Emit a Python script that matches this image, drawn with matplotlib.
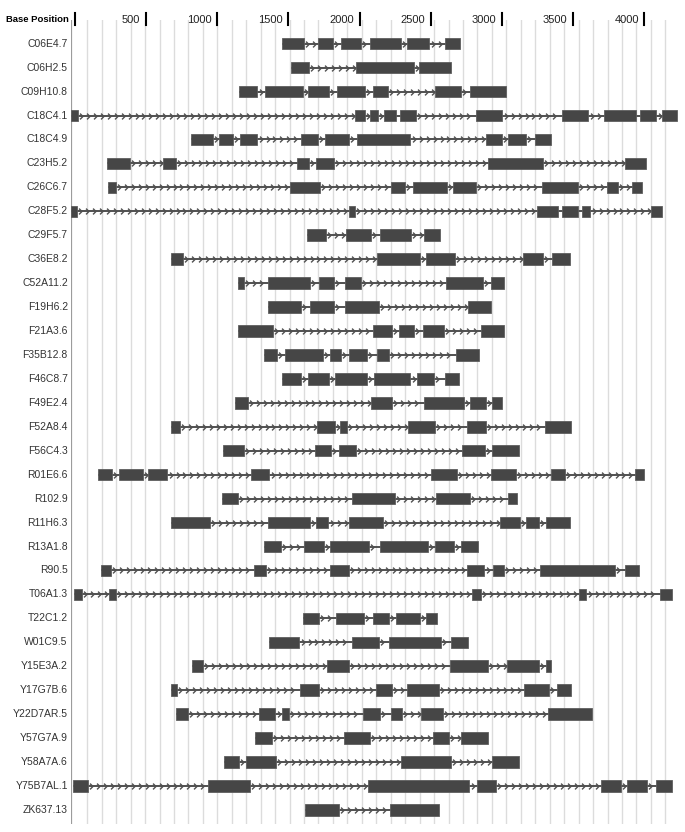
import numpy as np
import matplotlib
matplotlib.use("Agg")
import matplotlib.pyplot as plt
import matplotlib.transforms as mtransforms
from matplotlib.path import Path

# gene names, top to bottom
genes = ["C06E4.7", "C06H2.5", "C09H10.8", "C18C4.1", "C18C4.9", "C23H5.2",
         "C26C6.7", "C28F5.2", "C29F5.7", "C36E8.2", "C52A11.2", "F19H6.2",
         "F21A3.6", "F35B12.8", "F46C8.7", "F49E2.4", "F52A8.4", "F56C4.3",
         "R01E6.6", "R102.9", "R11H6.3", "R13A1.8", "R90.5", "T06A1.3",
         "T22C1.2", "W01C9.5", "Y15E3A.2", "Y17G7B.6", "Y22D7AR.5", "Y57G7A.9",
         "Y58A7A.6", "Y75B7AL.1", "ZK637.13"]

# exon start / end (base position) for each gene
exon_starts = [
    [1482, 1733, 1896, 2100, 2362, 2624],
    [1543, 2004, 2445],
    [1182, 1364, 1667, 1866, 2122, 2555, 2804],
    [0, 1996, 2103, 2197, 2310, 2842, 3449, 3744, 3998, 4152],
    [840, 1041, 1185, 1618, 1786, 2009, 2914, 3071, 3259],
    [250, 644, 1585, 1722, 2930, 3890],
    [258, 1540, 2246, 2404, 2680, 3306, 3763, 3940],
    [0, 1951, 3272, 3449, 3592, 4075],
    [1654, 1929, 2167, 2478],
    [699, 2147, 2492, 3176, 3380],
    [1171, 1383, 1742, 1924, 2633, 2947],
    [1386, 1676, 1924, 2787],
    [1171, 2122, 2302, 2473, 2878],
    [1356, 1502, 1816, 1949, 2147, 2702],
    [1483, 1667, 1855, 2125, 2431, 2624],
    [1154, 2106, 2478, 2804, 2955],
    [705, 1731, 1888, 2365, 2779, 3330],
    [1069, 1711, 1882, 2743, 2958],
    [192, 335, 542, 1265, 2531, 2950, 3369, 3959],
    [1063, 1973, 2566, 3071],
    [702, 1383, 1720, 1951, 3016, 3198, 3336],
    [1358, 1637, 1822, 2167, 2555, 2740],
    [211, 1284, 1819, 2779, 2961, 3297, 3893],
    [21, 266, 2815, 3570, 4138],
    [1631, 1858, 2120, 2285, 2492],
    [1391, 1976, 2230, 2666],
    [848, 1797, 2660, 3063, 3339],
    [705, 1609, 2142, 2362, 3179, 3416],
    [735, 1323, 1483, 2048, 2244, 2459, 3352],
    [1292, 1918, 2544, 2737],
    [1074, 1226, 2321, 2958],
    [12, 961, 2087, 2848, 3725, 3904, 4108],
    [1645, 2241],
]
exon_ends = [
    [1637, 1841, 2037, 2315, 2517, 2729],
    [1673, 2406, 2671],
    [1309, 1629, 1811, 2064, 2224, 2740, 3057],
    [46, 2067, 2153, 2280, 2420, 3030, 3634, 3970, 4111, 4257],
    [994, 1138, 1309, 1734, 1954, 2384, 3027, 3195, 3372],
    [415, 738, 1673, 1849, 3317, 4039],
    [313, 1750, 2343, 2638, 2842, 3562, 3843, 4009],
    [40, 1996, 3421, 3562, 3648, 4147],
    [1789, 2109, 2390, 2588],
    [785, 2448, 2699, 3317, 3501],
    [1215, 1678, 1849, 2034, 2892, 3044],
    [1612, 1844, 2164, 2950],
    [1419, 2255, 2409, 2619, 3041],
    [1449, 1767, 1896, 2078, 2233, 2867],
    [1612, 1813, 2078, 2384, 2550, 2726],
    [1240, 2255, 2757, 2914, 3027],
    [763, 1855, 1940, 2553, 2917, 3510],
    [1215, 1825, 2001, 2908, 3146],
    [288, 503, 677, 1394, 2710, 3124, 3466, 4025],
    [1171, 2274, 2804, 3135],
    [978, 1681, 1808, 2191, 3151, 3289, 3504],
    [1477, 1778, 2095, 2506, 2688, 2859],
    [280, 1369, 1949, 2903, 3038, 3819, 3992],
    [79, 313, 2881, 3620, 4224],
    [1739, 2059, 2233, 2448, 2572],
    [1604, 2164, 2600, 2790],
    [925, 1951, 2925, 3289, 3369],
    [746, 1739, 2255, 2586, 3358, 3510],
    [823, 1436, 1529, 2169, 2326, 2613, 3661],
    [1411, 2100, 2652, 2925],
    [1179, 1441, 2668, 3148],
    [117, 1259, 2798, 2983, 3865, 4045, 4221],
    [1882, 2586],
]

tick_values = [0, 500, 1000, 1500, 2000, 2500, 3000, 3500, 4000]
tick_labels = ["Base Position", "500", "1000", "1500", "2000", "2500",
               "3000", "3500", "4000"]

plt.rcParams["font.family"] = ["Liberation Sans", "DejaVu Sans"]

W, H = 685, 832
fig = plt.figure(figsize=(W / 100, H / 100), dpi=100)
ax = fig.add_axes([71 / W, 8 / H, 614 / W, 804 / H])
ax.set_xlim(0, 4312)
ax.set_ylim(32.59, -0.99)
ax.axis("off")

# background grid (drawn a little wider than 100 bp, as in the original)
grid_step = 101.5
for k in range(1, 42):
    ax.axvline(12.6 + grid_step * k, color="#dcdcdc", lw=1.0, zorder=0)
ax.axvline(0, color="#9c9c9c", lw=1.6, zorder=1)

chevron = Path([(-0.5, 1), (0.5, 0), (-0.5, -1)],
               [Path.MOVETO, Path.LINETO, Path.LINETO])

label_trans = mtransforms.offset_copy(ax.get_yaxis_transform(), fig=fig,
                                      x=-2.3, units="points")

for i, (starts, ends) in enumerate(zip(exon_starts, exon_ends)):
    # intron backbone
    ax.plot([starts[0], ends[-1]], [i, i], color="#505050", lw=1.4,
            solid_capstyle="butt", zorder=2)
    xs = []
    for e, s in zip(ends[:-1], starts[1:]):
        xs.extend(np.arange(e + 22, s - 10, 49))
    if xs:
        ax.plot(xs, [i] * len(xs), ls="none", marker=chevron, ms=4.2,
                mew=1.0, mfc="none", mec="#505050", zorder=3)
    # exons
    widths = [e - s for s, e in zip(starts, ends)]
    ax.barh([i] * len(starts), widths, left=starts, height=0.48,
            color="#464646", edgecolor="#5e5e5e", lw=0.6, zorder=4)
    ax.text(0, i, genes[i], transform=label_trans, ha="right", va="center",
            fontsize=7.5, color="#333333")

# top scale
top = mtransforms.blended_transform_factory(ax.transData, fig.transFigure)
bar_trans = mtransforms.offset_copy(top, fig=fig, x=2.7, units="points")
txt_trans = mtransforms.offset_copy(top, fig=fig, x=-1.3, units="points")
for v, lab in zip(tick_values, tick_labels):
    ax.plot([v, v], [(H - 13) / H, (H - 25) / H], color="black", lw=1.5,
            transform=bar_trans, clip_on=False, zorder=5)
    if v == 0:
        ax.text(v, (H - 20) / H, lab, transform=txt_trans, ha="right",
                va="center", fontsize=6.8, fontweight="bold", color="black")
    else:
        ax.text(v, (H - 20) / H, lab, transform=txt_trans, ha="right",
                va="center", fontsize=8, color="#222222")

fig.savefig("out.png", dpi=100)
